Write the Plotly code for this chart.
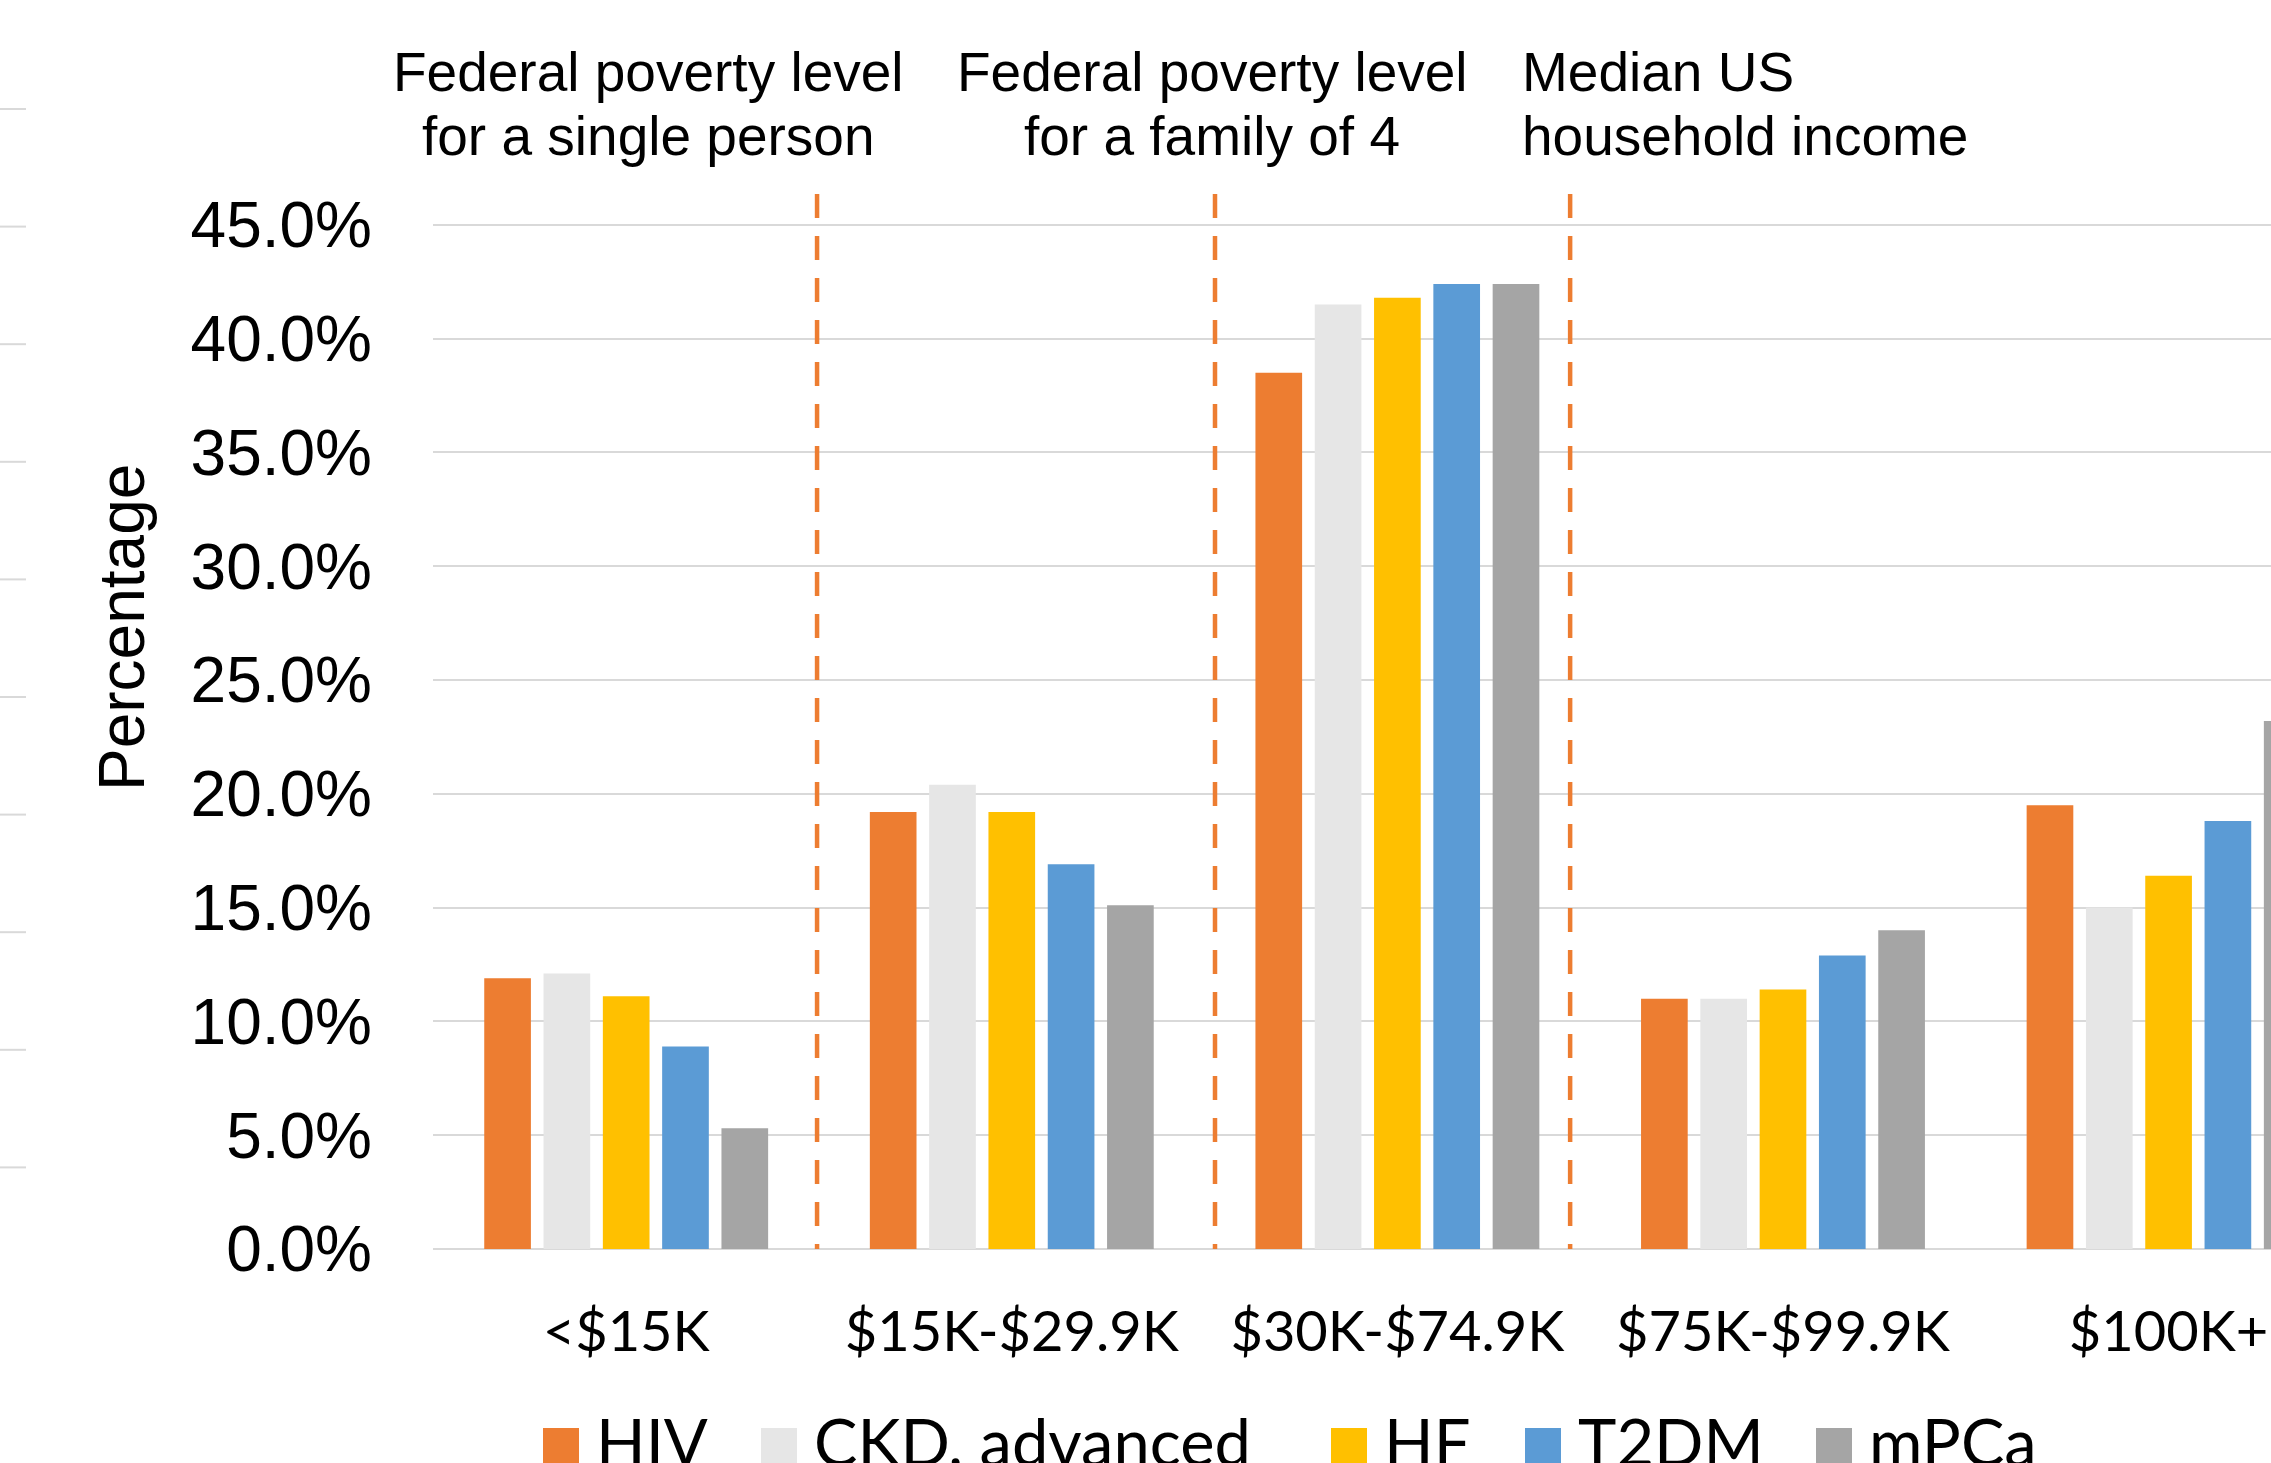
import plotly.graph_objects as go

# ---- data -------------------------------------------------------------
categories = ["<$15K", "$15K-$29.9K", "$30K-$74.9K", "$75K-$99.9K", "$100K+"]
series_names = ["HIV", "CKD, advanced", "HF", "T2DM", "mPCa"]
hiv = [11.9, 19.2, 38.5, 11.0, 19.5]
ckd_advanced = [12.1, 20.4, 41.5, 11.0, 15.0]
hf = [11.1, 19.2, 41.8, 11.4, 16.4]
t2dm = [8.9, 16.9, 42.4, 12.9, 18.8]
mpca = [5.3, 15.1, 42.4, 14.0, 23.2]
y_ticks = [0, 5, 10, 15, 20, 25, 30, 35, 40, 45]

# income reference lines (position on the category axis) and their labels
threshold_x = [0.495, 1.527, 2.448]
threshold_labels = [
    ["Federal poverty level", "for a single person"],
    ["Federal poverty level", "for a family of 4"],
    ["Median US", "household income"],
]

# ---- styling ------------------------------------------------------------
W, H = 2271, 1463
colors = ["#ED7D31", "#E6E6E6", "#FFC000", "#5B9BD5", "#A5A5A5"]
grid_color = "#D9D9D9"
sans = "Liberation Sans, Arial, sans-serif"
humanist = "Lato, Open Sans, sans-serif"


def px_x(p):
    return p / W


def px_y(p):
    return 1 - p / H


values = [hiv, ckd_advanced, hf, t2dm, mpca]

fig = go.Figure()
for name, vals, col in zip(series_names, values, colors):
    fig.add_trace(go.Bar(
        x=categories, y=vals, name=name,
        marker=dict(color=col, line=dict(width=0)),
        showlegend=False,
    ))

# plot area in pixels
plot_left, plot_top, plot_bottom = 433, 194, 1249
y_top = (plot_bottom - plot_top) / 113.8 * 5

fig.update_layout(
    width=W, height=H,
    margin=dict(l=0, r=0, t=0, b=0, pad=0, autoexpand=False),
    paper_bgcolor="white", plot_bgcolor="white",
    barmode="group", bargap=0.231, bargroupgap=0.213,
    xaxis=dict(
        domain=[px_x(plot_left), 1.0],
        range=[-0.501, 4.2656],
        showgrid=False, zeroline=False, showline=False,
        ticks="", ticklabelstandoff=45,
        tickfont=dict(family=humanist, size=56, color="black"),
        automargin=False,
    ),
    yaxis=dict(
        domain=[px_y(plot_bottom), px_y(plot_top)],
        range=[0, y_top],
        tickvals=y_ticks,
        ticktext=[f"{v:.1f}%" for v in y_ticks],
        showgrid=True, gridcolor=grid_color, gridwidth=2,
        zeroline=True, zerolinecolor=grid_color, zerolinewidth=2,
        showline=False, ticks="", ticklabelstandoff=60,
        tickfont=dict(family=sans, size=64, color="black"),
        automargin=False,
    ),
)

shapes = []
# dashed income reference lines
for xv in threshold_x:
    shapes.append(dict(
        type="line", xref="x", yref="paper",
        x0=xv, x1=xv, y0=px_y(plot_top), y1=px_y(plot_bottom),
        line=dict(color="#ED7D31", width=4.5, dash="24px,18px"),
        layer="above",
    ))

# gridline stubs of the neighbouring panel at the left edge
for k in range(10):
    yy = 109 + k * 117.6
    shapes.append(dict(
        type="line", xref="paper", yref="paper",
        x0=0, x1=px_x(26), y0=px_y(yy), y1=px_y(yy),
        line=dict(color=grid_color, width=2),
    ))

annotations = []
# reference line labels
label_pos = [(648, "center"), (1212, "center"), (1520, "left")]
for (xp, align), lines in zip(label_pos, threshold_labels):
    for j, txt in enumerate(lines):
        annotations.append(dict(
            text=txt, xref="paper", yref="paper",
            x=px_x(xp), y=px_y(72 + j * 64),
            xanchor=align, yanchor="middle", showarrow=False,
            font=dict(family=sans, size=55, color="black"),
        ))

# y-axis title
annotations.append(dict(
    text="Percentage", xref="paper", yref="paper",
    x=px_x(122), y=px_y(628), textangle=-90,
    xanchor="center", yanchor="middle", showarrow=False,
    font=dict(family=sans, size=64, color="black"),
))

# legend along the bottom
legend_x = [543, 761, 1331, 1525, 1816]
for name, col, lx in zip(series_names, colors, legend_x):
    shapes.append(dict(
        type="rect", xref="paper", yref="paper",
        x0=px_x(lx), x1=px_x(lx + 36), y0=px_y(1428), y1=px_y(1470),
        fillcolor=col, line=dict(width=0),
    ))
    annotations.append(dict(
        text=name, xref="paper", yref="paper",
        x=px_x(lx + 51), y=px_y(1441),
        xanchor="left", yanchor="middle", showarrow=False,
        font=dict(family=humanist, size=65, color="black"),
    ))

fig.update_layout(shapes=shapes, annotations=annotations)

fig.write_html("out.html")
